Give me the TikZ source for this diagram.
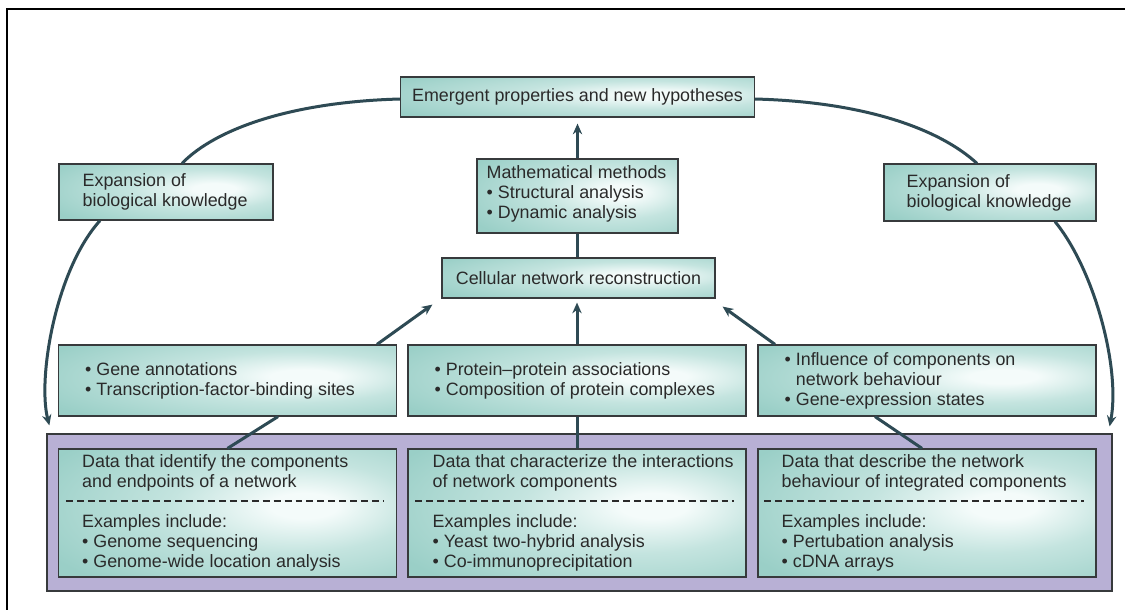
\documentclass[tikz,border=0pt]{standalone}
\usepackage{fontspec}
\setmainfont{Liberation Sans}
\usetikzlibrary{arrows.meta,calc}

\definecolor{tealedge}{RGB}{154,207,199}
\definecolor{tealmid}{RGB}{196,228,223}
\definecolor{tealglow}{RGB}{244,251,250}
\definecolor{lavedge}{RGB}{184,176,213}
\definecolor{lavglow}{RGB}{232,230,244}
\definecolor{linkc}{RGB}{46,74,84}
\definecolor{inkc}{RGB}{42,42,42}
\definecolor{rimc}{RGB}{55,58,60}

% soft glow inside the teal boxes, slightly right of centre
\pgfdeclareradialshading{tealshade}{\pgfpoint{12bp}{3bp}}{%
  color(0bp)=(tealglow); color(5bp)=(tealglow);
  color(18bp)=(tealmid); color(38bp)=(tealedge); color(90bp)=(tealedge)}

\newcommand\bul{\textbullet\ }

\tikzset{
  box/.style={draw=rimc, line width=0.9pt, shading=tealshade, inner sep=0pt,
              text=inkc, font=\fontsize{13.4}{15}\selectfont},
  band/.style={draw=rimc, line width=0.9pt, fill=lavedge, inner sep=0pt},
  gapglow/.style={left color=lavedge, middle color=lavglow, right color=lavedge},
  txt/.style={text=inkc, font=\fontsize{13.4}{15}\selectfont, align=left,
              inner sep=0pt, anchor=west},
  dashline/.style={draw=inkc, line width=0.9pt, dash pattern=on 5.2pt off 3pt},
  link/.style={draw=linkc, line width=2.25pt},
  arr/.style={link, -{Stealth[length=8pt,width=7pt]}},
}

\begin{document}
\begin{tikzpicture}[x=0.75pt,y=-0.75pt]
\useasboundingbox (0,0) rectangle (1125,610);
\fill[white] (0,0) rectangle (1125,610);

% page frame
\draw[line width=1.5pt, black] (7,611) -- (7,9) -- (1126,9);

% top of the cycle
\node[box, minimum width=265.5pt, minimum height=30pt] (emg) at (577.5,97)
  {Emergent properties and new hypotheses};
\node[box, minimum width=150.75pt, minimum height=55.5pt] (math) at (577.5,196) {};
\node[txt] (matht) at ([shift={(10,-2)}]math.west)
  {Mathematical methods\\\bul Structural analysis\\\bul Dynamic analysis};
\node[box, minimum width=204.75pt, minimum height=30pt] (cell) at (578.5,278)
  {Cellular network reconstruction};

% side boxes
\node[box, minimum width=160.5pt, minimum height=42pt] (expL) at (166,192) {};
\node[txt] (expLt) at ([shift={(24,0)}]expL.west) {Expansion of\\biological knowledge};
\node[box, minimum width=159pt, minimum height=42.75pt] (expR) at (990,192.5) {};
\node[txt] (expRt) at ([shift={(23,0)}]expR.west) {Expansion of\\biological knowledge};

% middle row
\node[box, minimum width=253.5pt, minimum height=53.25pt] (midL) at (227.5,380.5) {};
\node[txt] (midLt) at ([shift={(27,0)}]midL.west)
  {\bul Gene annotations\\\bul Transcription-factor-binding sites};
\node[box, minimum width=253.5pt, minimum height=53.25pt] (midM) at (577,380.5) {};
\node[txt] (midMt) at ([shift={(27,0)}]midM.west)
  {\bul Protein–protein associations\\\bul Composition of protein complexes};
\node[box, minimum width=253.5pt, minimum height=53.25pt] (midR) at (927,380.5) {};
\node[txt] (midRt) at ([shift={(27,0)}]midR.west)
  {\bul Influence of components on\\\hphantom{\bul}network behaviour\\\bul Gene-expression states};

% data band with pale gaps between the data boxes
\node[band, minimum width=798.75pt, minimum height=117.75pt] (pur) at (579.5,512.5) {};
\shade[gapglow] (392,435.8) rectangle (412,589.2);
\shade[gapglow] (742,435.8) rectangle (762,589.2);

\node[box, minimum width=253.5pt, minimum height=96pt] (botL) at (227.5,513) {};
\node[txt] (botLh) at ([shift={(24,-40.5)}]botL.west)
  {Data that identify the components\\and endpoints of a network};
\draw[dashline] ([shift={(8,-12)}]botL.west) -- ([shift={(-13,-12)}]botL.east);
\node[txt] (botLe) at ([shift={(24,30)}]botL.west)
  {Examples include:\\\bul Genome sequencing\\\bul Genome-wide location analysis};

\node[box, minimum width=253.5pt, minimum height=96pt] (botM) at (577,513) {};
\node[txt] (botMh) at ([shift={(25,-40.5)}]botM.west)
  {Data that characterize the interactions\\of network components};
\draw[dashline] ([shift={(8,-12)}]botM.west) -- ([shift={(-13,-12)}]botM.east);
\node[txt] (botMe) at ([shift={(25,30)}]botM.west)
  {Examples include:\\\bul Yeast two-hybrid analysis\\\bul Co-immunoprecipitation};

\node[box, minimum width=253.5pt, minimum height=96pt] (botR) at (927,513) {};
\node[txt] (botRh) at ([shift={(24,-40.5)}]botR.west)
  {Data that describe the network\\behaviour of integrated components};
\draw[dashline] ([shift={(7,-12)}]botR.west) -- ([shift={(-13,-12)}]botR.east);
\node[txt] (botRe) at ([shift={(24,30)}]botR.west)
  {Examples include:\\\bul Pertubation analysis\\\bul cDNA arrays};

% central column
\draw[arr] (math.north) -- ([shift={(0,6)}]emg.south -| math.north);
\draw[link] (math.south) -- (math.south |- cell.north);

% data boxes feed the middle row
\draw[link] (botL.north) -- ([shift={(50.5,0)}]midL.south);
\draw[link] (botM.north) -- (midM.south);
\draw[link] ([shift={(-5,0)}]botR.north) -- ([shift={(-52,0)}]midR.south);

% middle row feeds the reconstruction
\draw[arr] ([shift={(149.5,0)}]midL.north) -- ([shift={(-9,6)}]cell.south west);
\draw[arr] (midM.north) -- ([shift={(0,4)}]cell.south -| midM.north);
\draw[arr] ([shift={(-152,0)}]midR.north) -- ([shift={(7,8)}]cell.south east);

% feedback loops
\draw[link] ([shift={(0,2)}]emg.west) .. controls +(-110,3) and +(33,-34) .. ([shift={(16,0)}]expL.north);
\draw[link] ([shift={(0,2)}]emg.east) .. controls +(111,3) and +(-37,-34) .. ([shift={(-13,0)}]expR.north);
\draw[arr] ([shift={(-66,0)}]expL.south) .. controls +(-45,50) and +(-12,-46) .. ([shift={(3,-8)}]pur.north west);
\draw[arr] ([shift={(65,0)}]expR.south) .. controls +(40,49) and +(11,-57) .. ([shift={(-3,-7)}]pur.north east);
\end{tikzpicture}
\end{document}
